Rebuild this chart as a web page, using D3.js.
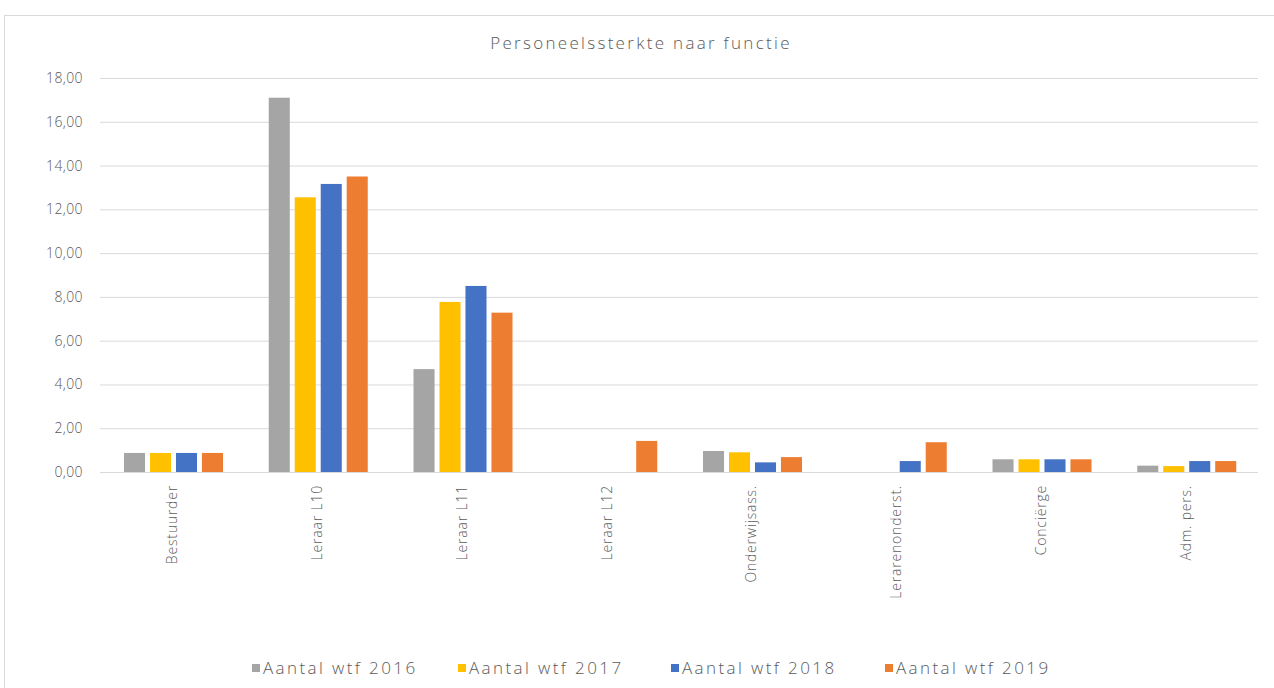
<!DOCTYPE html>
<html>
<head>
<meta charset="utf-8">
<script src="https://cdn.jsdelivr.net/npm/d3@7"></script>
<style>
  body { margin: 0; background: #fff; }
  text { font-family: "Open Sans", "Noto Sans", sans-serif; fill: #595959; }
</style>
</head>
<body>
<svg id="canvas"></svg>
<script>
let categories = ["Bestuurder", "Leraar L10", "Leraar L11", "Leraar L12", "Onderwijsass.", "Lerarenonderst.", "Conciërge", "Adm. pers."]
let seriesNames = ["Aantal wtf 2016", "Aantal wtf 2017", "Aantal wtf 2018", "Aantal wtf 2019"]
let values2016 = [0.87, 17.1, 4.7, 0, 0.96, 0, 0.58, 0.29]
let values2017 = [0.87, 12.55, 7.77, 0, 0.9, 0, 0.58, 0.27]
let values2018 = [0.87, 13.16, 8.5, 0, 0.44, 0.5, 0.58, 0.5]
let values2019 = [0.87, 13.5, 7.28, 1.42, 0.68, 1.36, 0.58, 0.5]
let yTicks = [0, 2, 4, 6, 8, 10, 12, 14, 16, 18]
let seriesColors = ["#A5A5A5", "#FFC000", "#4472C4", "#ED7D31"]

let allValues = [values2016, values2017, values2018, values2019]

let width = 1274
let height = 688
let plotLeft = 100, plotRight = 1258, plotTop = 78, plotBottom = 472

let canvas = d3.select("#canvas")
    .attr("width", width)
    .attr("height", height)

// chart border
canvas.append("rect")
    .attr("x", 4.5)
    .attr("y", 15.5)
    .attr("width", 1290)
    .attr("height", 700)
    .attr("fill", "none")
    .attr("stroke", "#d9d9d9")

canvas.append("text")
    .attr("x", 641)
    .attr("y", 49)
    .attr("text-anchor", "middle")
    .style("font-size", "17px")
    .style("font-weight", "300")
    .style("letter-spacing", "2.3px")
    .text("Personeelssterkte naar functie")

let xScale = d3.scaleBand()
    .domain(categories)
    .range([plotLeft, plotRight])

let xInner = d3.scaleBand()
    .domain(seriesNames)
    .range([24, 123])
    .paddingInner(0.19)

let yScale = d3.scaleLinear()
    .domain([0, 18])
    .range([plotBottom, plotTop])

let locale = d3.formatLocale({ decimal: ",", thousands: ".", grouping: [3], currency: ["€", ""] })
let fmt = locale.format(".2f")

// gridlines + y labels
let yAxis = d3.axisLeft(yScale)
    .tickValues(yTicks)
    .tickFormat(fmt)
    .tickSize(-(plotRight - plotLeft))
    .tickPadding(17)

let yAxisG = canvas.append("g")
    .attr("transform", "translate(" + plotLeft + ",0)")
    .call(yAxis)
yAxisG.select(".domain").remove()
yAxisG.selectAll("line")
    .attr("stroke", "#d9d9d9")
yAxisG.selectAll("text")
    .style("font-size", "14px")
    .style("font-weight", "300")
    .style("fill", "#595959")
    .style("font-family", "'Open Sans', sans-serif")
    .style("letter-spacing", "0.4px")

// bars
let groups = canvas.selectAll(".cat")
    .data(categories)
    .enter()
    .append("g")
    .attr("class", "cat")
    .attr("transform", (c) => "translate(" + xScale(c) + ",0)")

groups.selectAll("rect")
    .data((c, i) => seriesNames.map((s, j) => ({ series: s, value: allValues[j][i], color: seriesColors[j] })))
    .enter()
    .append("rect")
    .attr("x", (d) => xInner(d.series))
    .attr("width", xInner.bandwidth())
    .attr("y", (d) => yScale(d.value))
    .attr("height", (d) => yScale(0) - yScale(d.value))
    .attr("fill", (d) => d.color)

// baseline
canvas.append("line")
    .attr("x1", plotLeft)
    .attr("x2", plotRight)
    .attr("y1", yScale(0) + 0.5)
    .attr("y2", yScale(0) + 0.5)
    .attr("stroke", "#d9d9d9")

// x labels, rotated
let xAxis = d3.axisBottom(xScale).tickSize(0).tickPadding(0)
let xAxisG = canvas.append("g")
    .attr("transform", "translate(0," + plotBottom + ")")
    .call(xAxis)
xAxisG.select(".domain").remove()
xAxisG.selectAll("text")
    .attr("transform", "translate(5,13) rotate(-90)")
    .attr("text-anchor", "end")
    .attr("x", 0)
    .attr("y", 0)
    .attr("dy", "0")
    .style("font-size", "14px")
    .style("font-weight", "300")
    .style("fill", "#595959")
    .style("font-family", "'Open Sans', sans-serif")
    .style("letter-spacing", "0.8px")

// legend
let legendX = [252, 458, 671, 885]
let legend = canvas.selectAll(".legend-item")
    .data(seriesNames)
    .enter()
    .append("g")
    .attr("class", "legend-item")
    .attr("transform", (d, i) => "translate(" + legendX[i] + ",664)")

legend.append("rect")
    .attr("width", 8)
    .attr("height", 8)
    .attr("fill", (d, i) => seriesColors[i])

legend.append("text")
    .attr("x", 11)
    .attr("y", 10)
    .style("font-size", "17px")
    .style("font-weight", "300")
    .style("letter-spacing", "2.4px")
    .text((d) => d)
</script>
</body>
</html>
